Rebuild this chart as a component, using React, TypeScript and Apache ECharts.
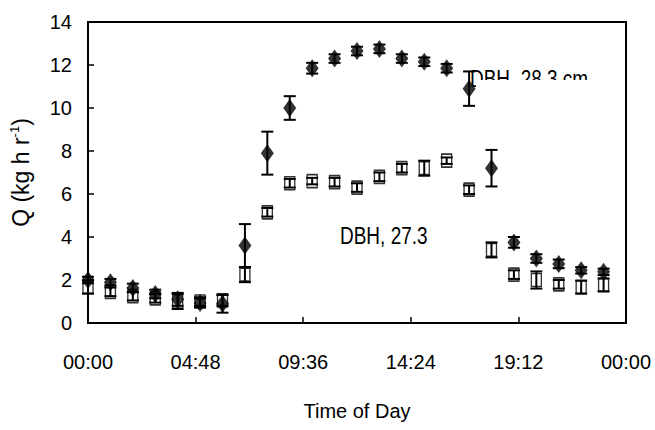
import React, { useEffect, useRef } from "react";
import * as echarts from "echarts";

const hours = [0, 1, 2, 3, 4, 5, 6, 7, 8, 9, 10, 11, 12, 13, 14, 15, 16, 17, 18, 19, 20, 21, 22, 23];
const dbh283 = [2.0, 1.9, 1.63, 1.35, 1.1, 0.93, 0.9, 3.6, 7.9, 10.0, 11.85, 12.3, 12.65, 12.75, 12.3, 12.15, 11.85, 10.9, 7.2, 3.75, 3.0, 2.75, 2.45, 2.38];
const dbh283Err = [0.15, 0.15, 0.2, 0.2, 0.3, 0.2, 0.42, 1.0, 1.0, 0.55, 0.25, 0.2, 0.2, 0.2, 0.2, 0.2, 0.2, 0.8, 0.85, 0.25, 0.2, 0.2, 0.15, 0.15];
const dbh273 = [1.67, 1.45, 1.25, 1.15, 1.0, 1.0, 1.05, 2.25, 5.15, 6.5, 6.6, 6.55, 6.3, 6.8, 7.2, 7.2, 7.55, 6.2, 3.4, 2.25, 2.0, 1.8, 1.67, 1.77];
const dbh273Err = [0.3, 0.2, 0.2, 0.2, 0.35, 0.2, 0.25, 0.35, 0.2, 0.2, 0.15, 0.2, 0.2, 0.2, 0.2, 0.35, 0.15, 0.2, 0.35, 0.2, 0.4, 0.2, 0.3, 0.3];
const xTickInterval = 4.8;
const labelA = "DBH, 28.3 cm";
const labelB = "DBH, 27.3";
const xTitle = "Time of Day";

const FONT = "'Liberation Sans', Arial, sans-serif";

function fmtTime(v: number): string {
  const mins = Math.round(v * 60) % (24 * 60);
  const h = Math.floor(mins / 60);
  const m = mins % 60;
  return (h < 10 ? "0" : "") + h + ":" + (m < 10 ? "0" : "") + m;
}

function errRender(params: any, api: any) {
  const x = api.value(0);
  const lo = api.value(1);
  const hi = api.value(2);
  const top = api.coord([x, hi]);
  const bot = api.coord([x, lo]);
  const hw = 6;
  const st = { stroke: "#000", lineWidth: 2 };
  return {
    type: "group",
    children: [
      { type: "line", shape: { x1: top[0], y1: top[1], x2: bot[0], y2: bot[1] }, style: st },
      { type: "line", shape: { x1: top[0] - hw, y1: top[1], x2: top[0] + hw, y2: top[1] }, style: st },
      { type: "line", shape: { x1: bot[0] - hw, y1: bot[1], x2: bot[0] + hw, y2: bot[1] }, style: st },
    ],
  };
}

export default function App() {
  const ref = useRef<HTMLDivElement>(null);
  useEffect(() => {
    if (!ref.current) return;
    const chart = echarts.init(ref.current, undefined, { renderer: "svg" });
    const ptsA = hours.map((h, i) => [h, dbh283[i]]);
    const ptsB = hours.map((h, i) => [h, dbh273[i]]);
    const errA = hours.map((h, i) => [h, dbh283[i] - dbh283Err[i], dbh283[i] + dbh283Err[i]]);
    const errB = hours.map((h, i) => [h, dbh273[i] - dbh273Err[i], dbh273[i] + dbh273Err[i]]);
    chart.setOption({
      animation: false,
      textStyle: { fontFamily: FONT, color: "#000" },
      grid: {
        left: 81,
        right: 29,
        top: 22,
        bottom: 107,
        show: true,
        borderColor: "#000",
        borderWidth: 2,
      },
      xAxis: {
        type: "value",
        min: 0,
        max: 24,
        interval: xTickInterval,
        name: xTitle,
        nameLocation: "middle",
        nameGap: 78,
        nameTextStyle: { fontFamily: FONT, fontSize: 20, color: "#000" },
        axisLine: { lineStyle: { color: "#000", width: 2 } },
        axisTick: { inside: true, length: 6, lineStyle: { color: "#000", width: 1.5 } },
        axisLabel: { formatter: fmtTime, fontFamily: FONT, fontSize: 20, color: "#000", margin: 29 },
        splitLine: { show: false },
      },
      yAxis: {
        type: "value",
        min: 0,
        max: 14,
        interval: 2,
        name: "{a|Q (kg h r}{s|-1}{a|)}",
        nameLocation: "middle",
        nameGap: 55,
        nameTextStyle: {
          fontFamily: FONT,
          fontSize: 23,
          color: "#000",
          rich: {
            a: { fontFamily: FONT, fontSize: 23, color: "#000", lineHeight: 25 },
            s: { fontFamily: FONT, fontSize: 13, color: "#000", lineHeight: 25, verticalAlign: "top" },
          },
        },
        axisLine: { lineStyle: { color: "#000", width: 2 } },
        axisTick: { inside: true, length: 6, lineStyle: { color: "#000", width: 1.5 } },
        axisLabel: { fontFamily: FONT, fontSize: 20, color: "#000", margin: 16 },
        splitLine: { show: false },
      },
      series: [
        {
          type: "scatter",
          data: ptsB,
          symbol: "rect",
          symbolSize: [10, 13],
          itemStyle: { color: "#fff", borderColor: "#000", borderWidth: 1.5 },
          z: 2,
          clip: false,
        },
        {
          type: "custom",
          data: errB,
          renderItem: errRender,
          encode: { x: 0, y: [1, 2] },
          z: 3,
          clip: false,
        },
        {
          type: "scatter",
          data: ptsA,
          symbol: "diamond",
          symbolSize: [13, 18],
          itemStyle: { color: "#000" },
          z: 4,
          clip: false,
        },
        {
          type: "custom",
          data: errA,
          renderItem: errRender,
          encode: { x: 0, y: [1, 2] },
          z: 5,
          clip: false,
        },
      ],
      graphic: [
        {
          type: "text",
          x: 340,
          y: 223,
          scaleY: 1.3,
          z: 100,
          style: { text: labelB, fontFamily: FONT, fontSize: 19, fill: "#000", verticalAlign: "top" },
        },
        {
          type: "text",
          x: 470,
          y: 66,
          scaleY: 1.3,
          z: 100,
          style: { text: labelA, fontFamily: FONT, fontSize: 19, fill: "#000", verticalAlign: "top" },
        },
        {
          type: "rect",
          shape: { x: 476, y: 80, width: 125, height: 16 },
          z: 101,
          style: { fill: "#fff" },
        },
      ],
    });
    return () => chart.dispose();
  }, []);
  return (
    <div
      ref={ref}
      style={{ position: "fixed", left: 0, top: 0, width: 655, height: 430, background: "#fff" }}
    />
  );
}
